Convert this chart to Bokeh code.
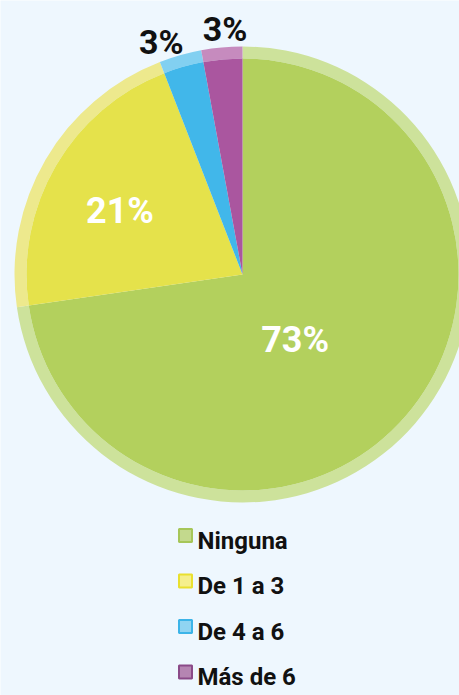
import math
from bokeh.plotting import figure
from bokeh.models import Range1d
from bokeh.core.properties import value
from bokeh.embed import file_html
from bokeh.resources import INLINE

categories = ["Ninguna", "De 1 a 3", "De 4 a 6", "Más de 6"]
shares = [72.7, 21.4, 3.0, 2.9]
labels = ["73%", "21%", "3%", "3%"]

main_colors = ["#b3d05d", "#e5e24b", "#41b7ea", "#aa569f"]
ring_colors = ["#cde29b", "#ede98d", "#82d0f1", "#c68bbe"]
legend_fill = ["#c3d98d", "#f5ef8c", "#90d4f2", "#b585b2"]
legend_line = ["#a6c659", "#e9e02f", "#3cb4e8", "#8a4a88"]
label_colors = ["white", "white", "#111111", "#111111"]

W, H = 459, 695
BG = "#eef7fe"

def px(X):
    return X

def py(Y):
    return H - Y

p = figure(width=W, height=H, output_backend="svg", toolbar_location=None,
           x_range=Range1d(0, W), y_range=Range1d(0, H), min_border=0)
p.axis.visible = False
p.grid.visible = False
p.outline_line_color = None
p.background_fill_color = BG
p.border_fill_color = BG

cx, cy = px(242), py(274)
R_out, R_in = 228, 216

total = sum(shares)
cum = 0.0
starts, ends, mids = [], [], []
for s in shares:
    a0 = math.pi / 2 - cum / total * 2 * math.pi
    cum += s
    a1 = math.pi / 2 - cum / total * 2 * math.pi
    starts.append(a0)
    ends.append(a1)
    mids.append((a0 + a1) / 2)

p.annular_wedge(x=[cx] * 4, y=[cy] * 4, inner_radius=R_in, outer_radius=R_out,
                start_angle=starts, end_angle=ends, direction="clock",
                fill_color=ring_colors, line_color=None)
p.wedge(x=[cx] * 4, y=[cy] * 4, radius=R_in,
        start_angle=starts, end_angle=ends, direction="clock",
        fill_color=main_colors, line_color=None)

# label placement: (radius, angle tweak in radians)
place = [(84, -0.18), (138, 0.05), (246, 0.06), (246, -0.02)]
for i, lab in enumerate(labels):
    r, da = place[i]
    a = mids[i] + da
    lx = cx + r * math.cos(a)
    ly = cy + r * math.sin(a)
    size = "36px" if i < 2 else "34px"
    p.text(x=[lx], y=[ly], text=[lab], text_align="center", text_baseline="middle",
           text_font=value("Roboto"), text_font_style="bold", text_font_size=size,
           text_color=label_colors[i])

# legend
row0, step = 535, 45.5
for i, c in enumerate(categories):
    yc = py(row0 + i * step)
    p.scatter(x=[px(185)], y=[yc], marker="square", size=13,
              fill_color=legend_fill[i], line_color=legend_line[i], line_width=2)
    p.text(x=[px(197)], y=[yc - 5], text=[c], text_align="left", text_baseline="middle",
           text_font=value("Roboto"), text_font_style="bold", text_font_size="24px",
           text_color="#111111")

html = file_html(p, INLINE)
html = html.replace("<body>", '<body style="background:%s;margin:0">' % BG, 1)
open("out.html", "w").write(html)
